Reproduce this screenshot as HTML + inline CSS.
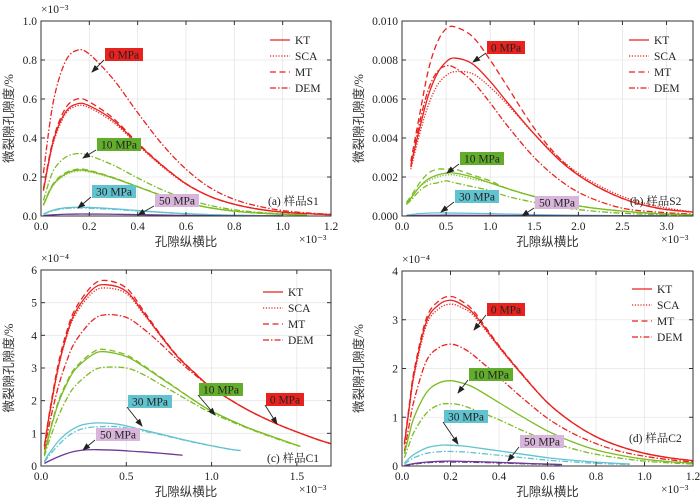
<!DOCTYPE html>
<html><head><meta charset="utf-8">
<style>
body{margin:0;background:#fff;}
svg{display:block;font-family:"Liberation Serif","Noto Serif CJK SC",serif;}
.tk{font-size:11.5px;fill:#222;font-family:"Liberation Serif","Noto Serif CJK SC",serif;}
.ttl{font-size:12.5px;fill:#333;font-family:"Liberation Serif","Noto Sans CJK SC",serif;}
</style></head>
<body>
<svg id="chart" width="700" height="500" viewBox="0 0 700 500" xmlns="http://www.w3.org/2000/svg"></svg>
<script>
// ---------- Panel (a) sample S1 ----------
const aX0 = [0.01,0.05,0.1,0.15,0.2,0.3,0.4,0.5,0.6,0.7,0.8,0.9,1.0,1.1,1.2];
const a0KT  = [0.13,0.38,0.53,0.575,0.565,0.49,0.37,0.26,0.165,0.10,0.06,0.035,0.02,0.012,0.007];
const a0SCA = [0.13,0.37,0.52,0.565,0.555,0.48,0.365,0.255,0.163,0.10,0.06,0.035,0.02,0.012,0.007];
const a0MT  = [0.14,0.39,0.55,0.60,0.585,0.50,0.375,0.262,0.166,0.10,0.06,0.035,0.02,0.012,0.007];
const a0DEM = [0.22,0.58,0.79,0.85,0.83,0.70,0.53,0.37,0.24,0.145,0.085,0.05,0.028,0.016,0.009];
const aX10 = [0.01,0.05,0.1,0.15,0.2,0.3,0.4,0.5,0.6,0.7,0.8,0.9,1.0,1.1];
const a10KT  = [0.055,0.16,0.215,0.235,0.23,0.195,0.15,0.105,0.068,0.042,0.025,0.015,0.009,0.005];
const a10SCA = [0.055,0.155,0.21,0.23,0.226,0.193,0.149,0.104,0.068,0.042,0.025,0.015,0.009,0.005];
const a10MT  = [0.058,0.165,0.22,0.24,0.234,0.197,0.151,0.106,0.068,0.042,0.025,0.015,0.009,0.005];
const a10DEM = [0.08,0.23,0.30,0.32,0.31,0.26,0.195,0.135,0.088,0.054,0.032,0.019,0.011,0.006];
const aX30 = [0.01,0.05,0.1,0.15,0.2,0.3,0.4,0.5,0.6,0.7,0.8,0.9,1.0];
const a30KT  = [0.01,0.03,0.042,0.045,0.044,0.037,0.028,0.019,0.012,0.007,0.004,0.002,0.001];
const a30DEM = [0.009,0.027,0.038,0.041,0.040,0.034,0.026,0.018,0.011,0.007,0.004,0.002,0.001];
const a50KT  = [0.002,0.006,0.009,0.01,0.01,0.009,0.007,0.005,0.003,0.002,0.001,0.0006,0.0003];
// ---------- Panel (b) sample S2 ----------
const bX0 = [0.1,0.2,0.3,0.4,0.5,0.6,0.8,1.0,1.2,1.5,1.8,2.1,2.5,2.9,3.3];
const b0KT  = [0.0026,0.0045,0.0062,0.0073,0.0079,0.0081,0.0078,0.0069,0.0058,0.0042,0.0028,0.0018,0.0009,0.0004,0.0002];
const b0SCA = [0.0024,0.0042,0.0057,0.0067,0.0072,0.0074,0.0073,0.0066,0.0057,0.0042,0.0029,0.0019,0.0010,0.0005,0.0002];
const b0MT  = [0.0028,0.0052,0.0075,0.0089,0.0096,0.0097,0.0092,0.0080,0.0066,0.0045,0.0029,0.0018,0.0009,0.0004,0.0002];
const b0DEM = [0.0025,0.0048,0.0065,0.0074,0.0077,0.0076,0.0069,0.0058,0.0046,0.0030,0.0018,0.0010,0.0004,0.0002,0.0001];
const bX10 = [0.05,0.1,0.2,0.3,0.4,0.5,0.6,0.8,1.0,1.2,1.5,1.8,2.1,2.5,2.9,3.3];
const b10KT  = [0.0006,0.0009,0.0015,0.0019,0.0021,0.0022,0.0022,0.0020,0.0017,0.0014,0.0010,0.0007,0.00045,0.00025,0.00012,0.00006];
const b10SCA = [0.0006,0.0009,0.0015,0.0018,0.0020,0.0021,0.0021,0.0019,0.0017,0.0014,0.0010,0.0007,0.00045,0.00025,0.00012,0.00006];
const b10MT  = [0.0007,0.001,0.0017,0.0022,0.0024,0.0024,0.0024,0.0021,0.0018,0.0014,0.0010,0.0007,0.00045,0.00025,0.00012,0.00006];
const b10DEM = [0.0006,0.0008,0.0013,0.0016,0.0017,0.0018,0.0017,0.0015,0.0013,0.001,0.0007,0.00045,0.00028,0.00014,0.00007,0.00003];
const bX30 = [0.05,0.2,0.4,0.6,1.0,1.5,2.0,2.5,3.0];
const b30KT = [0.00004,0.00012,0.00016,0.00015,0.00012,0.00007,0.00004,0.00002,0.00001];
const b50KT = [0.00001,0.00003,0.00004,0.00004,0.00003,0.00002,0.00001,0.000005,0.000002];
// ---------- Panel (c) sample C1 ----------
const cX0 = [0.02,0.05,0.1,0.15,0.2,0.3,0.38,0.5,0.6,0.7,0.8,0.9,1.0,1.2,1.4,1.6,1.7];
const c0KT  = [0.6,1.6,3.0,4.0,4.7,5.4,5.55,5.35,4.7,4.0,3.35,2.85,2.4,1.75,1.25,0.85,0.68];
const c0SCA = [0.6,1.55,2.95,3.95,4.62,5.3,5.45,5.28,4.66,3.98,3.34,2.84,2.4,1.75,1.25,0.85,0.68];
const c0MT  = [0.62,1.65,3.1,4.1,4.8,5.52,5.68,5.45,4.76,4.03,3.37,2.86,2.4,1.75,1.25,0.85,0.68];
const c0DEM = [0.5,1.3,2.4,3.2,3.8,4.45,4.63,4.55,4.2,3.75,3.25,2.8,2.4,1.75,1.25,0.85,0.68];
const cX10 = [0.02,0.05,0.1,0.15,0.2,0.3,0.37,0.5,0.6,0.7,0.8,0.9,1.0,1.2,1.4,1.52];
const c10KT  = [0.35,1.0,1.9,2.5,2.95,3.4,3.5,3.35,3.05,2.7,2.35,2.0,1.68,1.2,0.82,0.6];
const c10MT  = [0.37,1.05,1.95,2.56,3.0,3.47,3.57,3.4,3.08,2.72,2.36,2.0,1.68,1.2,0.82,0.6];
const c10DEM = [0.3,0.8,1.5,2.05,2.45,2.9,3.02,3.0,2.8,2.5,2.2,1.9,1.62,1.18,0.8,0.6];
const cX30 = [0.02,0.05,0.1,0.15,0.2,0.25,0.33,0.45,0.6,0.7,0.8,0.9,1.0,1.1,1.17];
const c30KT  = [0.15,0.4,0.75,1.0,1.17,1.27,1.32,1.28,1.1,0.98,0.85,0.73,0.62,0.52,0.47];
const c30DEM = [0.12,0.33,0.63,0.88,1.05,1.15,1.2,1.2,1.07,0.96,0.84,0.72,0.62,0.52,0.47];
const cX50 = [0.02,0.05,0.1,0.15,0.2,0.25,0.33,0.45,0.6,0.7,0.83];
const c50KT = [0.08,0.16,0.28,0.38,0.45,0.49,0.5,0.48,0.43,0.39,0.33];
// ---------- Panel (d) sample C2 ----------
const dX0 = [0.01,0.03,0.05,0.1,0.15,0.2,0.25,0.3,0.4,0.5,0.6,0.7,0.8,0.9,1.0,1.1,1.2];
const d0KT  = [0.45,1.2,1.9,2.95,3.3,3.4,3.3,3.1,2.45,1.85,1.3,0.9,0.6,0.4,0.26,0.17,0.11];
const d0SCA = [0.44,1.17,1.85,2.88,3.22,3.32,3.24,3.06,2.43,1.84,1.3,0.9,0.6,0.4,0.26,0.17,0.11];
const d0MT  = [0.47,1.25,1.96,3.02,3.38,3.48,3.37,3.15,2.47,1.86,1.3,0.9,0.6,0.4,0.26,0.17,0.11];
const d0DEM = [0.3,0.85,1.35,2.15,2.42,2.5,2.42,2.25,1.82,1.38,0.98,0.68,0.46,0.3,0.2,0.13,0.08];
const d10KT  = [0.25,0.65,1.0,1.5,1.7,1.75,1.7,1.6,1.3,1.0,0.72,0.5,0.33,0.22,0.14,0.09,0.06];
const d10DEM = [0.17,0.45,0.7,1.08,1.25,1.28,1.24,1.15,0.95,0.72,0.52,0.36,0.24,0.16,0.1,0.065,0.04];
const dX30 = [0.01,0.03,0.05,0.1,0.15,0.18,0.25,0.3,0.4,0.5,0.6,0.7,0.8,0.94];
const d30KT  = [0.06,0.16,0.24,0.37,0.42,0.43,0.41,0.38,0.31,0.24,0.17,0.12,0.08,0.04];
const d30DEM = [0.04,0.11,0.17,0.26,0.29,0.3,0.29,0.27,0.22,0.17,0.12,0.085,0.055,0.03];
const dX50 = [0.01,0.05,0.1,0.15,0.2,0.3,0.4,0.5,0.6,0.66];
const d50KT  = [0.01,0.05,0.08,0.095,0.1,0.09,0.075,0.055,0.04,0.03];
const d50DEM = [0.008,0.04,0.065,0.078,0.082,0.075,0.062,0.046,0.033,0.025];
// ---------- ticks ----------
const aXTicks = ["0.0","0.2","0.4","0.6","0.8","1.0","1.2"];
const aYTicks = ["0.0","0.2","0.4","0.6","0.8","1.0"];
const bXTicks = ["0.0","0.5","1.0","1.5","2.0","2.5","3.0"];
const bYTicks = ["0.000","0.002","0.004","0.006","0.008","0.010"];
const cXTicks = ["0.0","0.5","1.0","1.5"];
const cYTicks = ["0","1","2","3","4","5","6"];
const dXTicks = ["0.0","0.2","0.4","0.6","0.8","1.0","1.2"];
const dYTicks = ["0","1","2","3","4"];

const RED="#e8231f", GREEN="#7cbc23", CYAN="#62c3d0", PURPLE="#6b3a97";
const DASH={KT:"",SCA:"1.2,1.6",MT:"6,3.5",DEM:"6,2,1.5,2"};
const svg=document.getElementById('chart');
const NS="http://www.w3.org/2000/svg";
function mk(t,a,p){const e=document.createElementNS(NS,t);for(const k in a)e.setAttribute(k,a[k]);(p||svg).appendChild(e);return e;}

const panels=[
 {id:"a",L:41,R:331,T:21,B:216,xmax:1.2,ymax:1.0,xt:aXTicks,yt:aYTicks,yexp:"×10⁻³",tag:"(a) 样品S1",tagX:268,tagY:205,legX:270,legY:40,
  series:[[aX0,a0KT,RED,"KT"],[aX0,a0SCA,RED,"SCA"],[aX0,a0MT,RED,"MT"],[aX0,a0DEM,RED,"DEM"],
   [aX10,a10KT,GREEN,"KT"],[aX10,a10SCA,GREEN,"SCA"],[aX10,a10MT,GREEN,"MT"],[aX10,a10DEM,GREEN,"DEM"],
   [aX30,a30KT,CYAN,"KT"],[aX30,a30DEM,CYAN,"DEM"],[aX30,a50KT,PURPLE,"KT"]],
  labels:[["0 MPa",105,48,RED,92,72],["10 MPa",97,138,"#62ad2c",83,158],["30 MPa",92,185,CYAN,78,208],["50 MPa",155,194,"#d8b5da",138,215]]},
 {id:"b",L:402,R:693,T:21,B:216,xmax:3.3,ymax:0.01,xt:bXTicks,yt:bYTicks,yexp:"",tag:"(b) 样品S2",tagX:630,tagY:205,legX:629,legY:40,
  series:[[bX0,b0KT,RED,"KT"],[bX0,b0SCA,RED,"SCA"],[bX0,b0MT,RED,"MT"],[bX0,b0DEM,RED,"DEM"],
   [bX10,b10KT,GREEN,"KT"],[bX10,b10SCA,GREEN,"SCA"],[bX10,b10MT,GREEN,"MT"],[bX10,b10DEM,GREEN,"DEM"],
   [bX30,b30KT,CYAN,"KT"],[bX30,b50KT,PURPLE,"KT"]],
  labels:[["0 MPa",487,41,RED,473,62],["10 MPa",460,152,"#62ad2c",447,173],["30 MPa",455,190,CYAN,441,212],["50 MPa",535,196,"#d8b5da",522,216]]},
 {id:"c",L:41,R:331,T:270,B:466,xmax:1.7,ymax:6,xt:cXTicks,yt:cYTicks,yexp:"×10⁻⁴",tag:"(c) 样品C1",tagX:267,tagY:462,legX:263,legY:292,
  series:[[cX0,c0KT,RED,"KT"],[cX0,c0SCA,RED,"SCA"],[cX0,c0MT,RED,"MT"],[cX0,c0DEM,RED,"DEM"],
   [cX10,c10KT,GREEN,"KT"],[cX10,c10MT,GREEN,"MT"],[cX10,c10DEM,GREEN,"DEM"],
   [cX30,c30KT,CYAN,"KT"],[cX30,c30DEM,CYAN,"DEM"],[cX50,c50KT,PURPLE,"KT"]],
  labels:[["0 MPa",266,393,RED,277,424],["10 MPa",199,383,"#62ad2c",215,415],["30 MPa",128,395,CYAN,142,426],["50 MPa",96,428,"#d8b5da",83,450]]},
 {id:"d",L:402,R:693,T:271,B:466,xmax:1.2,ymax:4,xt:dXTicks,yt:dYTicks,yexp:"×10⁻⁴",tag:"(d) 样品C2",tagX:629,tagY:442,legX:632,legY:289,
  series:[[dX0,d0KT,RED,"KT"],[dX0,d0SCA,RED,"SCA"],[dX0,d0MT,RED,"MT"],[dX0,d0DEM,RED,"DEM"],
   [dX0,d10KT,GREEN,"KT"],[dX0,d10DEM,GREEN,"DEM"],[dX30,d30KT,CYAN,"KT"],[dX30,d30DEM,CYAN,"DEM"],
   [dX50,d50KT,PURPLE,"KT"],[dX50,d50DEM,PURPLE,"DEM"]],
  labels:[["0 MPa",487,303,RED,474,330],["10 MPa",469,368,"#62ad2c",458,393],["30 MPa",444,410,CYAN,458,444],["50 MPa",520,435,"#d8b5da",508,461]]}
];

mk('defs',{}).innerHTML='<marker id="arr" markerWidth="8" markerHeight="8" refX="7" refY="4" orient="auto" markerUnits="userSpaceOnUse"><path d="M0,1 L8,4 L0,7 Z" fill="#222"/></marker>';

function smooth(pts){
  let d="M"+pts[0][0].toFixed(2)+","+pts[0][1].toFixed(2);
  for(let i=0;i<pts.length-1;i++){
    const p0=pts[Math.max(0,i-1)],p1=pts[i],p2=pts[i+1],p3=pts[Math.min(pts.length-1,i+2)];
    const c1=[p1[0]+(p2[0]-p0[0])/6,p1[1]+(p2[1]-p0[1])/6],c2=[p2[0]-(p3[0]-p1[0])/6,p2[1]-(p3[1]-p1[1])/6];
    d+="C"+c1.map(v=>v.toFixed(2))+" "+c2.map(v=>v.toFixed(2))+" "+p2[0].toFixed(2)+","+p2[1].toFixed(2);
  }
  return d;
}

panels.forEach(P=>{
  const g=mk('g',{});
  
  
  const sx=v=>P.L+v/P.xmax*(P.R-P.L), sy=v=>P.B-v/P.ymax*(P.B-P.T);
  const xs=P.xt.map(Number), ys=P.yt.map(Number);
  xs.forEach(v=>{ if(v>0&&v<P.xmax) mk('line',{x1:sx(v),x2:sx(v),y1:P.T,y2:P.B,stroke:"#e6e6e6","stroke-width":0.8},g);});
  ys.forEach(v=>{ if(v>0&&v<P.ymax) mk('line',{x1:P.L,x2:P.R,y1:sy(v),y2:sy(v),stroke:"#e6e6e6","stroke-width":0.8},g);});
  const sg=mk('g',{},g);
  P.series.forEach((s,i)=>{
    const pts=s[0].map((x,j)=>[sx(x),sy(s[1][j])]);
    const p=mk('path',{d:smooth(pts),fill:"none",stroke:s[2],"stroke-width":1.3,"stroke-dasharray":DASH[s[3]]},sg);
    
    
  });
  const box=mk('rect',{x:P.L,y:P.T,width:P.R-P.L,height:P.B-P.T,fill:"none",stroke:"#333","stroke-width":1},g);
  
  
  P.xt.forEach((t,i)=>{const x=sx(xs[i]);
    mk('line',{x1:x,x2:x,y1:P.B,y2:P.B-4,stroke:"#333"},g);mk('line',{x1:x,x2:x,y1:P.T,y2:P.T+4,stroke:"#333"},g);
    const tx=mk('text',{x:x,y:P.B+14,"text-anchor":"middle",class:"tk"},g);tx.textContent=t;
    
    });
  P.yt.forEach((t,i)=>{const y=sy(ys[i]);
    mk('line',{x1:P.L,x2:P.L+4,y1:y,y2:y,stroke:"#333"},g);mk('line',{x1:P.R,x2:P.R-4,y1:y,y2:y,stroke:"#333"},g);
    const tx=mk('text',{x:P.L-4,y:y+4,"text-anchor":"end",class:"tk"},g);tx.textContent=t;
    
    });
  if(P.yexp){const e=mk('text',{x:P.L,y:P.T-8,class:"tk","font-size":"10"},g);e.textContent=P.yexp;
    
    }
  const xe=mk('text',{x:P.R-32,y:P.B+27,class:"tk","font-size":"10"},g);xe.textContent="×10⁻³";
  
  
  const xt=mk('text',{x:(P.L+P.R)/2,y:P.B+30,"text-anchor":"middle",class:"ttl"},g);xt.textContent="孔隙纵横比";
  
  
  const yt=mk('text',{x:0,y:0,"text-anchor":"middle",class:"ttl",transform:`translate(${P.id==="a"||P.id==="c"?13:363},${(P.T+P.B)/2}) rotate(-90)`},g);yt.textContent="微裂隙孔隙度/%";
  
  
  const tg=mk('text',{x:P.tagX,y:P.tagY,class:"tk","font-size":"12"},g);tg.textContent=P.tag;
  
  
  ["KT","SCA","MT","DEM"].forEach((m,i)=>{
    const y=P.legY+i*16;
    const lg=mk('g',{},g);
    
    
    mk('line',{x1:P.legX,x2:P.legX+20,y1:y,y2:y,stroke:RED,"stroke-width":1.3,"stroke-dasharray":DASH[m]},lg);
    const t=mk('text',{x:P.legX+25,y:y+4,class:"tk","font-size":"12"},lg);t.textContent=m;
  });
  P.labels.forEach(l=>{
    const lg=mk('g',{},g);
    
    
    const w=l[0].length>5?44:38;
    mk('rect',{x:l[1],y:l[2],width:w,height:13,fill:l[3]},lg);
    const t=mk('text',{x:l[1]+w/2,y:l[2]+10.5,"text-anchor":"middle",class:"tk","font-size":"12"},lg);t.textContent=l[0];
    mk('line',{x1:l[1]-1,y1:l[2]+12,x2:l[4],y2:l[5],stroke:"#222","stroke-width":0.9,"marker-end":"url(#arr)"},lg);
  });
});
</script>
</body></html>
